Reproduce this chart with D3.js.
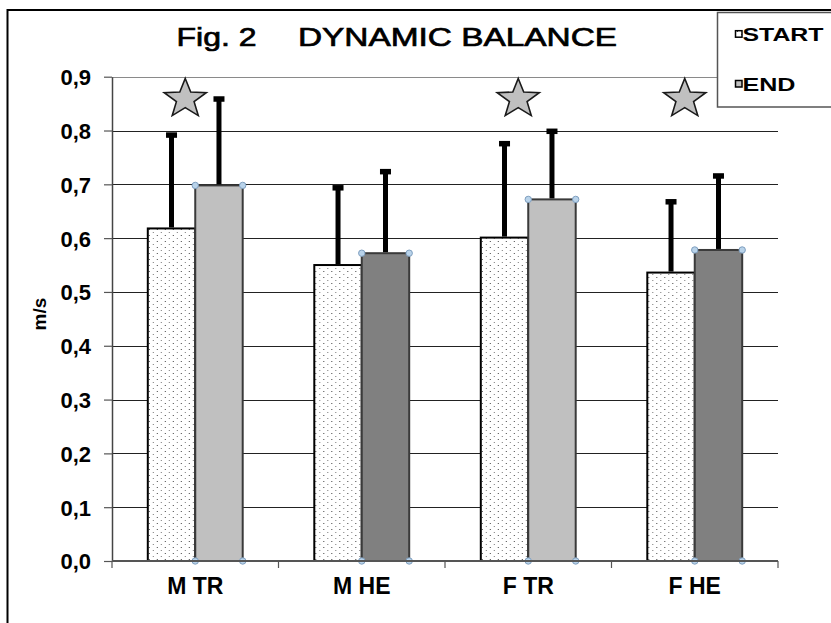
<!DOCTYPE html>
<html><head><meta charset="utf-8">
<script src="https://cdn.jsdelivr.net/npm/d3@7"></script>
<style>html,body{margin:0;padding:0;background:#fff;}svg{display:block;}</style>
</head><body>
<script>
const categories = ["M TR", "M HE", "F TR", "F HE"];
const seriesNames = ["START", "END"];
const startMeans = [0.618, 0.550, 0.601, 0.536];
const endMeans   = [0.698, 0.572, 0.672, 0.578];
const startSD    = [0.174, 0.144, 0.175, 0.132];
const endSD      = [0.161, 0.152, 0.127, 0.138];
const significant = [true, false, true, true];
const yTicks = [0, 0.1, 0.2, 0.3, 0.4, 0.5, 0.6, 0.7, 0.8, 0.9];
const titleParts = ["Fig. 2", "DYNAMIC BALANCE"];
const yTitle = "m/s";

(function () {
const W = 831, H = 623;
const FONT = "Arial, 'Liberation Sans', sans-serif";
const svg = d3.select("body").append("svg").attr("width", W).attr("height", H);
svg.append("rect").attr("width", W).attr("height", H).attr("fill", "#fff");

// pattern for START bars
const defs = svg.append("defs");
const pat = defs.append("pattern").attr("id", "dots").attr("patternUnits", "userSpaceOnUse")
  .attr("width", 8).attr("height", 6);
pat.append("rect").attr("width", 8).attr("height", 6).attr("fill", "#fff");
pat.append("rect").attr("x", 1).attr("y", 1).attr("width", 1).attr("height", 1).attr("fill", "#444");
pat.append("rect").attr("x", 5).attr("y", 4).attr("width", 1).attr("height", 1).attr("fill", "#777");

// outer frame
svg.append("path").attr("d", "M7.5,623 V10 H831").attr("fill", "none").attr("stroke", "#000").attr("stroke-width", 2);

const pLeft = 112, pRight = 778, pTop = 76.7, pBottom = 561;
const y = d3.scaleLinear().domain([0, 0.9]).range([pBottom, pTop]);
const x0 = d3.scaleBand().domain(categories).range([pLeft, pRight]).paddingInner(0.43).paddingOuter(0.215);
const x1 = d3.scaleBand().domain(seriesNames).range([0, x0.bandwidth()]).padding(0);

// gridlines
svg.append("g").selectAll("line").data(yTicks.filter(v => v > 0)).join("line")
  .attr("x1", pLeft).attr("x2", pRight)
  .attr("y1", d => Math.round(y(d)) + 0.5).attr("y2", d => Math.round(y(d)) + 0.5)
  .attr("stroke", d => d >= 0.9 ? "#8a8a8a" : "#222").attr("stroke-width", 1);

// y axis
const fmt = d => d3.format(".1f")(d).replace(".", ",");
const yAxis = svg.append("g").attr("transform", `translate(${pLeft},0)`)
  .call(d3.axisLeft(y).tickValues(yTicks).tickFormat(fmt).tickSize(8).tickSizeOuter(0).tickPadding(13));
yAxis.select(".domain").attr("stroke", "#444").attr("stroke-width", 1.5);
yAxis.selectAll(".tick line").attr("stroke", "#555").attr("stroke-width", 1.2);
yAxis.selectAll(".tick text").attr("font-family", FONT).attr("font-weight", "bold")
  .attr("font-size", 22).attr("fill", "#000").attr("dy", "0.36em");

// y title
svg.append("text").attr("transform", "translate(46,314) rotate(-90)")
  .attr("text-anchor", "middle").attr("font-family", FONT).attr("font-weight", "bold")
  .attr("font-size", 19).text(yTitle);

// bars
const rows = categories.map((c, i) => ({
  cat: c, i,
  vals: [
    {s: "START", v: startMeans[i], sd: startSD[i]},
    {s: "END", v: endMeans[i], sd: endSD[i]}
  ]
}));
const gCat = svg.append("g").selectAll("g").data(rows).join("g")
  .attr("transform", d => `translate(${x0(d.cat)},0)`);

gCat.selectAll("rect.bar").data(d => d.vals.map(v => ({...v, cat: d.cat}))).join("rect")
  .attr("class", "bar")
  .attr("x", d => x1(d.s)).attr("width", x1.bandwidth())
  .attr("y", d => y(d.v)).attr("height", d => y(0) - y(d.v))
  .attr("fill", d => d.s === "START" ? "url(#dots)" : (d.cat.includes("TR") ? "#c0c0c0" : "#808080"))
  .attr("stroke", d => d.s === "START" ? "#000" : "#3a3a3a").attr("stroke-width", 2);

// error bars
const eb = gCat.selectAll("g.err").data(d => d.vals).join("g").attr("class", "err");
eb.append("line")
  .attr("x1", d => x1(d.s) + x1.bandwidth() / 2).attr("x2", d => x1(d.s) + x1.bandwidth() / 2)
  .attr("y1", d => y(d.v) - 1).attr("y2", d => y(d.v + d.sd))
  .attr("stroke", "#000").attr("stroke-width", 5);
eb.append("rect")
  .attr("x", d => x1(d.s) + x1.bandwidth() / 2 - 5.5).attr("width", 11)
  .attr("y", d => y(d.v + d.sd) - 2.5).attr("height", 5.5).attr("fill", "#000");

// selection handles on END bars
gCat.each(function(d) {
  const g = d3.select(this);
  const v = d.vals[1];
  const xs = [x1("END"), x1("END") + x1.bandwidth()];
  const ys = [y(v.v), y(0)];
  ys.forEach(yy => xs.forEach(xx => {
    g.append("circle").attr("cx", xx).attr("cy", yy).attr("r", 3.2)
      .attr("fill", "#b9d3ea").attr("stroke", "#7f9fbf").attr("stroke-width", 1);
  }));
});

// x axis
svg.append("line").attr("x1", pLeft).attr("x2", pRight).attr("y1", pBottom).attr("y2", pBottom)
  .attr("stroke", "#555").attr("stroke-width", 2);
const step = x0.step();
svg.append("g").selectAll("line").data(d3.range(categories.length + 1)).join("line")
  .attr("x1", i => pLeft + i * step).attr("x2", i => pLeft + i * step)
  .attr("y1", pBottom).attr("y2", pBottom + 7).attr("stroke", "#555").attr("stroke-width", 1.2);
const xAxis = svg.append("g").attr("transform", `translate(0,${pBottom})`)
  .call(d3.axisBottom(x0).tickSize(0).tickPadding(16));
xAxis.select(".domain").remove();
xAxis.selectAll(".tick text").attr("font-family", FONT).attr("font-weight", "bold")
  .attr("font-size", 23).attr("fill", "#000").attr("dy", "0.72em");

// stars
const starPts = (R, r) => d3.range(10).map(k => {
  const a = -Math.PI / 2 + k * Math.PI / 5;
  const rr = k % 2 === 0 ? R : r;
  return [Math.cos(a) * rr * 1.08, Math.sin(a) * rr];
});
svg.append("g").selectAll("path").data(categories.filter((c, i) => significant[i])).join("path")
  .attr("transform", c => `translate(${x0(c) + x0.bandwidth() / 2 - 10},99)`)
  .attr("d", d3.line().curve(d3.curveLinearClosed)(starPts(20.5, 8.6)))
  .attr("fill", "#c0c0c0").attr("stroke", "#1a1a1a").attr("stroke-width", 1.6);

// title
[[176.5, 80], [298, 319]].forEach(([tx, tl], i) => {
  svg.append("text").attr("x", tx).attr("y", 46).attr("font-family", FONT).attr("font-size", 26)
    .attr("fill", "#000").attr("stroke", "#000").attr("stroke-width", 0.7)
    .attr("textLength", tl).attr("lengthAdjust", "spacingAndGlyphs").text(titleParts[i]);
});

// legend
const lg = svg.append("g");
lg.append("rect").attr("x", 717.5).attr("y", 12.5).attr("width", 200).attr("height", 94.5)
  .attr("fill", "#fff").attr("stroke", "#555").attr("stroke-width", 1.5);
const legendY = [40.7, 90.5];
const legendLen = [81, 53];
seriesNames.forEach((s, i) => {
  lg.append("rect").attr("x", 735.5).attr("y", legendY[i] - 10).attr("width", 6.5).attr("height", 6.5)
    .attr("fill", s === "START" ? "url(#dots)" : "#c0c0c0").attr("stroke", "#000").attr("stroke-width", 1.5);
  lg.append("text").attr("x", 742.5).attr("y", legendY[i]).attr("font-family", FONT)
    .attr("font-weight", "bold").attr("font-size", 19)
    .attr("textLength", legendLen[i]).attr("lengthAdjust", "spacingAndGlyphs").text(s);
});
})();
</script>
</body></html>
